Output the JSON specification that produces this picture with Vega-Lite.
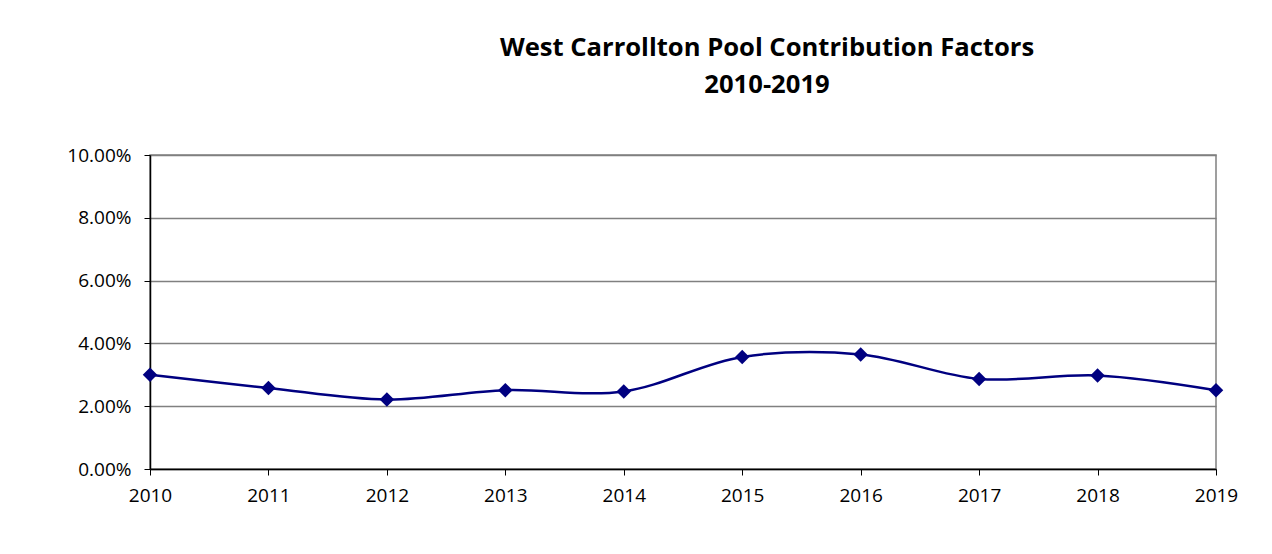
{
  "$schema": "https://vega.github.io/schema/vega-lite/v6.json",
  "autosize": "none",
  "width": 1066,
  "height": 314,
  "padding": {"left": 150, "top": 155, "right": 56, "bottom": 85},
  "background": "white",
  "title": {
    "text": ["West Carrollton Pool Contribution Factors", "2010-2019"],
    "font": "Open Sans",
    "fontSize": 25.6,
    "fontWeight": "bold",
    "color": "black",
    "lineHeight": 37,
    "anchor": "middle",
    "dx": 84,
    "offset": 47
  },
  "config": {
    "view": {"stroke": "#808080", "strokeWidth": 1.5}
  },
  "data": {
    "values": [
      {"year": "2010", "factor": 0.0300},
      {"year": "2011", "factor": 0.0258},
      {"year": "2012", "factor": 0.0221},
      {"year": "2013", "factor": 0.0251},
      {"year": "2014", "factor": 0.0247},
      {"year": "2015", "factor": 0.0357},
      {"year": "2016", "factor": 0.0365},
      {"year": "2017", "factor": 0.0287},
      {"year": "2018", "factor": 0.0298},
      {"year": "2019", "factor": 0.0251}
    ]
  },
  "encoding": {
    "x": {
      "field": "year",
      "type": "ordinal",
      "scale": {"type": "point", "padding": 0},
      "axis": {
        "title": null, "labelAngle": 0, "grid": false, "labelPadding": 11, "tickSize": 6,
        "labelFont": "Open Sans", "labelFontSize": 19, "labelColor": "black",
        "domainColor": "black", "domainWidth": 1.5, "tickColor": "black"
      }
    },
    "y": {
      "field": "factor",
      "type": "quantitative",
      "scale": {"domain": [0, 0.1], "nice": false},
      "axis": {
        "title": null, "format": ".2%", "values": [0, 0.02, 0.04, 0.06, 0.08, 0.1],
        "labelPadding": 13, "tickSize": 6,
        "labelFont": "Open Sans", "labelFontSize": 19, "labelColor": "black",
        "domainColor": "black", "domainWidth": 1.5, "tickColor": "black",
        "gridColor": "#808080", "gridWidth": 1.5, "gridOpacity": 1
      }
    }
  },
  "layer": [
    {
      "mark": {"type": "line", "color": "#000080", "strokeWidth": 2.5, "interpolate": "catmull-rom"}
    },
    {
      "mark": {"type": "point", "shape": "diamond", "filled": true, "color": "#000080", "opacity": 1, "size": 210}
    }
  ]
}
